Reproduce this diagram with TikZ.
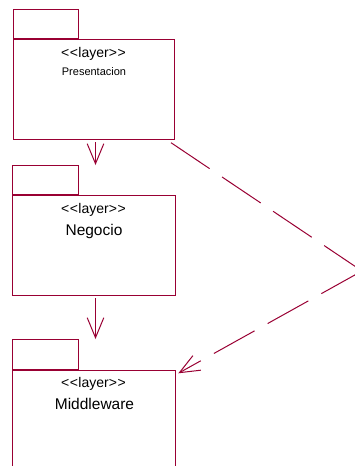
\documentclass[tikz,border=0pt]{standalone}
\usepackage{fontspec}
\setmainfont{Liberation Sans}
\usetikzlibrary{arrows.meta}
\definecolor{roseline}{RGB}{153,0,51}
% Stereotype text with plain angle brackets (kerns stop the << -> guillemet mapping)
\newcommand{\layerstereo}{<\kern0.6pt<\kern0.3pt layer>\kern0.6pt>}

\begin{document}
\begin{tikzpicture}[x=1pt,y=-1pt,
  pkgbody/.style={draw=roseline, line width=1pt, inner sep=0pt, anchor=north west},
  pkgtab/.style={draw=roseline, line width=1pt, inner sep=0pt, anchor=south west},
  stereo/.style={anchor=base, inner sep=0pt, font=\fontsize{14}{16}\selectfont},
  pkgname/.style={anchor=base, inner sep=0pt, font=\fontsize{15.5}{18}\selectfont},
  smallname/.style={anchor=base, inner sep=0pt, font=\fontsize{11}{13}\selectfont},
  barb/.tip={Straight Barb[length=20pt,width=16.6pt]},
  dep/.style={draw=roseline, line width=1pt, -barb},
  dashdep/.style={draw=roseline, line width=1pt, dash pattern=on 46.5pt off 15pt}]

\clip (0,0) rectangle (355,466);

% Presentacion package
\node[pkgbody, minimum width=161pt, minimum height=100pt] (pres) at (13,39) {};
\node[pkgtab, minimum width=65pt, minimum height=29pt] (prestab) at (pres.north west) {};
\node[stereo] (presst) at (93.5,57) {\layerstereo};
\node[smallname] (presname) at (94,75.7) {Presentacion};

% Negocio package
\node[pkgbody, minimum width=163pt, minimum height=100pt] (neg) at (12,195) {};
\node[pkgtab, minimum width=66pt, minimum height=29pt] (negtab) at (neg.north west) {};
\node[stereo] (negst) at (93.5,213.3) {\layerstereo};
\node[pkgname] (negname) at (94,235) {Negocio};

% Middleware package (runs past the lower edge)
\node[pkgbody, minimum width=163pt, minimum height=110pt] (mid) at (12,370) {};
\node[pkgtab, minimum width=66pt, minimum height=30pt] (midtab) at (mid.north west) {};
\node[stereo] (midst) at (93.5,387.3) {\layerstereo};
\node[pkgname] (midname) at (94.5,409.3) {Middleware};

% Dependencies between layers
\coordinate (a1s) at ([shift={(1.5,2.3)}]pres.south);
\coordinate (a1e) at (a1s |- negtab.north);
\draw[dep] (a1s) -- (a1e);

\coordinate (a2s) at ([shift={(1.5,2.3)}]neg.south);
\coordinate (a2e) at (a2s |- midtab.north);
\draw[dep] (a2s) -- (a2e);

\coordinate (d1s) at ([shift={(-4,2.7)}]pres.south east);
\coordinate (bend) at (362,271);
\coordinate (d1e) at ([shift={(2.3,3.3)}]mid.north east);
\draw[dashdep] (d1s) -- (bend);
\draw[dashdep, -barb] (bend) -- (d1e);
\end{tikzpicture}
\end{document}
